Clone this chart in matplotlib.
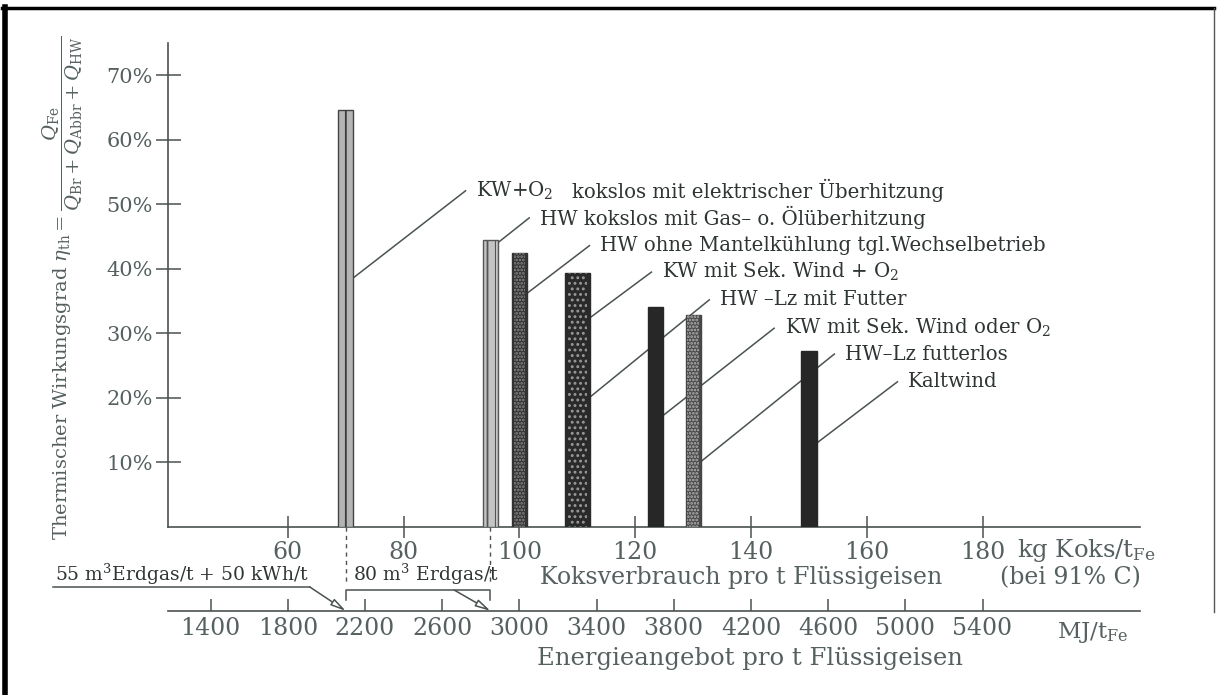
import matplotlib.pyplot as plt
import matplotlib.lines as mlines

plt.rcParams['font.family'] = 'DejaVu Serif'
plt.rcParams['mathtext.fontset'] = 'dejavuserif'
plt.rcParams['hatch.linewidth'] = 1.3

# Koksverbrauch (kg/t Fe) und thermischer Wirkungsgrad (%) je Verfahren
koks = [70, 95, 100, 110, 123.5, 130, 150]
wirkungsgrad = [64.6, 44.4, 42.4, 39.3, 34.1, 32.8, 27.3]

# Beschriftungen, zugehoeriger Balken und Hoehe des Anschlusspunkts am Balken
labels = ['KW+O$_2$', 'HW kokslos mit Gas– o. Ölüberhitzung',
          'HW ohne Mantelkühlung tgl.Wechselbetrieb', 'KW mit Sek. Wind + O$_2$',
          'HW –Lz mit Futter', 'KW mit Sek. Wind oder O$_2$', 'HW–Lz futterlos', 'Kaltwind']
label_bar = [0, 1, 2, 3, 3, 4, 5, 6]
label_anchor = [38.6, 44.1, 36.2, 32.4, 20.1, 17.3, 10.1, 13.0]

kg_ticks = [60, 80, 100, 120, 140, 160, 180]
mj_ticks = [1400, 1800, 2200, 2600, 3000, 3400, 3800, 4200, 4600, 5000, 5400]
pct_ticks = [10, 20, 30, 40, 50, 60, 70]

# layout
label_pos = [(92.5, 52.1), (103.5, 47.9), (113.9, 43.6), (124.6, 39.5),
             (134.6, 35.2), (145.8, 30.8), (156.2, 26.8), (167.1, 22.5)]
widths = [2.6, 2.7, 2.6, 4.3, 2.7, 2.6, 2.7]
faces = ['#b4b4b4', '#c4c4c4', '#333333', '#2a2a2a', '#272727', '#4a4a4a', '#272727']
hatches = ['||', '||', '.....', '...', None, '.....', None]
hatch_cols = ['#3a3a3a', '#555555', '#8a8a8a', '#9a9a9a', None, '#b5b5b5', None]
edges = ['#444444', '#555555', '#333333', '#2a2a2a', '#272727', '#444444', '#272727']

grey = '#4a5252'
tickc = '#566060'
textc = '#2f3535'

fig = plt.figure(figsize=(12.19, 6.95), dpi=100)
ax = fig.add_axes([168 / 1219, 168 / 695, 972 / 1219, 484 / 695])
ax.set_xlim(39.3, 207.2)
ax.set_ylim(0, 75)

for i in range(len(koks)):
    ax.bar(koks[i], wirkungsgrad[i], width=widths[i], color=faces[i],
           edgecolor=edges[i], linewidth=1.0, zorder=3)
    if hatches[i]:
        ax.bar(koks[i], wirkungsgrad[i], width=widths[i] * 0.75, color='none',
               edgecolor=hatch_cols[i], hatch=hatches[i], linewidth=0, zorder=4)

# Fuehrungslinien (liegen hinter den Balken)
for lab, b, ya, (tx, ty) in zip(labels, label_bar, label_anchor, label_pos):
    xa = koks[b] + widths[b] / 2
    ax.plot([xa, tx - 1.8], [ya, ty], color=grey, lw=1.1, zorder=1)
    ax.text(tx, ty, lab, fontsize=14.2, color=textc, ha='left', va='center')
ax.text(109.0, 52.1, 'kokslos mit elektrischer Überhitzung', fontsize=14.2,
        color=textc, ha='left', va='center')

# Achsen
for s in ['top', 'right']:
    ax.spines[s].set_visible(False)
for s in ['left', 'bottom']:
    ax.spines[s].set_color(grey)
    ax.spines[s].set_linewidth(1.2)
ax.set_xticks(kg_ticks)
ax.set_xticklabels([str(v) for v in kg_ticks])
ax.set_yticks(pct_ticks)
ax.set_yticklabels([f'{v}%' for v in pct_ticks])
ax.tick_params(axis='x', direction='inout', length=16, width=1.1, color=grey,
               labelsize=17, labelcolor=tickc, pad=2)
ax.tick_params(axis='y', direction='inout', length=18, width=1.1, color=grey,
               labelsize=15, labelcolor=tickc, pad=2)

sec = ax.secondary_xaxis(-0.1736, functions=(lambda x: x * 30, lambda x: x / 30))
sec.set_xticks(mj_ticks)
sec.set_xticklabels([str(v) for v in mj_ticks])
sec.tick_params(direction='in', length=9, width=1.1, color=grey,
                labelsize=17, labelcolor=tickc, pad=4)
sec.spines['bottom'].set_color(grey)
sec.spines['bottom'].set_linewidth(1.2)

# Achsentitel
ax.text(185.9, -3.7, 'kg Koks/t$_{\\mathrm{Fe}}$', fontsize=17.5, color=tickc,
        ha='left', va='center', clip_on=False)
ax.text(103.5, -7.9, 'Koksverbrauch pro t Flüssigeisen', fontsize=17, color=tickc,
        ha='left', va='center', clip_on=False)
ax.text(183.0, -7.9, '(bei 91% C)', fontsize=17, color=tickc,
        ha='left', va='center', clip_on=False)
ax.text(192.8, -16.3, 'MJ/t$_{\\mathrm{Fe}}$', fontsize=16.5, color=tickc,
        ha='left', va='center', clip_on=False)
ax.text(103.0, -20.4, 'Energieangebot pro t Flüssigeisen', fontsize=17.5, color=tickc,
        ha='left', va='center', clip_on=False)

fig.text(0.052, (695 - 540) / 695,
         'Thermischer Wirkungsgrad $\\eta_{\\mathrm{th}} = '
         '\\dfrac{Q_{\\mathrm{Fe}}}{Q_{\\mathrm{Br}}+Q_{\\mathrm{Abbr}}+Q_{\\mathrm{HW}}}$',
         rotation=90, fontsize=14, color=tickc, ha='center', va='bottom')

# Markierungen Erdgas / Strom
for xk in (koks[0], koks[1]):
    ax.plot([xk, xk], [0, -8.5], color=grey, lw=1.0, ls=(0, (3, 3)), clip_on=False)
ax.plot([70, 70, 95, 95], [-11.3, -9.8, -9.8, -11.3], color=grey, lw=1.1, clip_on=False)
ax.plot([19.4, 63.8], [-9.3, -9.3], color=grey, lw=1.1, clip_on=False)
arrow = dict(arrowstyle='-|>,head_length=0.9,head_width=0.22', color=grey,
             fc='white', lw=1.1, shrinkA=0, shrinkB=0)
ax.annotate('', xy=(70, -13.0), xytext=(63.8, -9.3), arrowprops=arrow,
            annotation_clip=False)
ax.annotate('', xy=(95, -13.0), xytext=(88.8, -9.8), arrowprops=arrow,
            annotation_clip=False)
ax.text(19.8, -7.4, '55 m$^3$Erdgas/t + 50 kWh/t', fontsize=13.5, color=textc,
        ha='left', va='center', clip_on=False)
ax.text(71.2, -7.4, '80 m$^3$ Erdgas/t', fontsize=13.5, color=textc,
        ha='left', va='center', clip_on=False)

# Rahmen des Scans
fig.add_artist(mlines.Line2D([0.004, 0.004], [0, 0.99], color='black', lw=4,
                             transform=fig.transFigure))
fig.add_artist(mlines.Line2D([0.002, 0.996], [0.988, 0.988], color='black', lw=2.5,
                             transform=fig.transFigure))
fig.add_artist(mlines.Line2D([0.996, 0.996], [0.12, 0.988], color='#555555', lw=1,
                             transform=fig.transFigure))

fig.savefig('out.png', dpi=100)
